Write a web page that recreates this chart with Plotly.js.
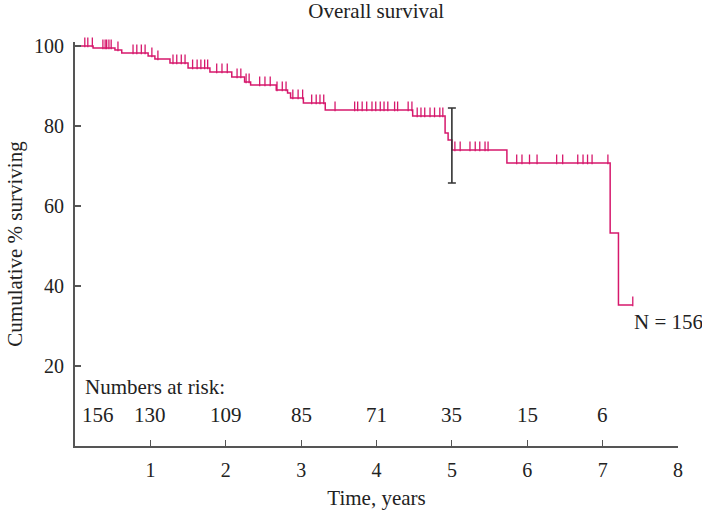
<!DOCTYPE html>
<html><head><meta charset="utf-8">
<script src="https://cdn.plot.ly/plotly-3.0.1.min.js"></script>
<style>html,body{margin:0;padding:0;background:#fff}#chart{width:702px;height:516px}</style>
</head><body><div id="chart"></div>
<script>
// Kaplan-Meier step curve (years, cumulative % surviving)
const times = [0, 0.24, 0.53, 0.62, 0.97, 1.06, 1.26, 1.50, 1.79, 2.08, 2.25, 2.33, 2.67, 2.82, 2.86, 3.03, 3.32, 4.48, 4.91, 4.95, 5.00, 5.73, 7.10, 7.21, 7.40];
const survival = [100, 99.5, 99.0, 98.25, 97.5, 96.75, 95.75, 94.5, 93.5, 92.25, 91.0, 90.25, 89.0, 88.25, 87.0, 85.75, 84.0, 82.5, 78.25, 76.5, 74.0, 70.75, 53.25, 35.25, 35.25];
// censoring times
const censorTimes = [0.13,0.17,0.23,0.37,0.40,0.42,0.45,0.48,0.57,0.77,0.82,0.88,0.93,1.02,1.10,1.30,1.35,1.41,1.46,1.56,1.62,1.67,1.72,1.76,1.88,1.95,2.02,2.15,2.20,2.27,2.31,2.45,2.52,2.59,2.68,2.75,2.80,2.89,2.96,3.02,3.14,3.20,3.25,3.30,3.45,3.71,3.75,3.81,3.87,3.94,3.99,4.05,4.10,4.15,4.24,4.28,4.42,4.47,4.54,4.59,4.64,4.71,4.77,4.84,4.88,5.04,5.11,5.24,5.31,5.37,5.44,5.48,5.86,5.93,6.03,6.13,6.39,6.47,6.67,6.74,6.80,6.86,7.07,7.40];
// 95% CI at 5 years
const ciTime = [5];
const ciEst = [75];
const ciUpper = [9.5];
const ciLower = [9.25];
// numbers at risk
const riskTimes = [0.30, 1, 2, 3, 4, 5, 6, 7];
const riskCounts = ['156','130','109','85','71','35','15','6'];

function survAt(t){
  let s = survival[0];
  for (let i=0;i<times.length;i++){ if (times[i] <= t) s = survival[i]; }
  return s;
}
const pink = '#d6186c';
const font = 'Liberation Serif, Times New Roman, serif';
const txt = '#222';

const traces = [
  {x: times, y: survival, type:'scatter', mode:'lines', line:{shape:'hv', color:pink, width:1.5}, hoverinfo:'skip', cliponaxis:false},
  {x: censorTimes, y: censorTimes.map(t=>survAt(t)+0.9), type:'scatter', mode:'markers',
   marker:{symbol:'line-ns-open', size:7, color:pink, line:{color:pink, width:1.3}}, cliponaxis:false, hoverinfo:'skip'},
  {x: ciTime, y: ciEst, type:'scatter', mode:'markers', marker:{size:1, color:'rgba(0,0,0,0)'},
   error_y:{type:'data', symmetric:false, array:ciUpper, arrayminus:ciLower, color:'#333', thickness:1.6, width:4}, hoverinfo:'skip', cliponaxis:false}
];

const annotations = [
  {x:0.10, y:14.75, xref:'x', yref:'y', text:'Numbers at risk:', showarrow:false, xanchor:'left', yanchor:'middle', font:{family:font, size:21, color:txt}},
  {x:7.39, y:31, xref:'x', yref:'y', text:'N = 156', showarrow:false, xanchor:'left', yanchor:'middle', font:{family:font, size:21, color:txt}}
].concat(riskTimes.map((t,i)=>({x:t, y:7.75, xref:'x', yref:'y', text:riskCounts[i], showarrow:false, xanchor:'center', yanchor:'middle', font:{family:font, size:21, color:txt}})));

const layout = {
  width:702, height:516,
  margin:{l:75, r:24, t:42, b:70},
  paper_bgcolor:'#fff', plot_bgcolor:'#fff',
  showlegend:false,
  font:{family:font, size:20, color:txt},
  title:{text:'Overall survival', x:0.536, xref:'container', xanchor:'center', y:0.979, yref:'container', yanchor:'middle', font:{family:font, size:21, color:txt}},
  xaxis:{range:[0,8], tickvals:[1,2,3,4,5,6,7,8], ticks:'inside', ticklen:6, tickwidth:1.2, tickcolor:'#555',
    showline:true, linecolor:'#555', linewidth:2, showgrid:false, zeroline:false, ticklabelstandoff:5,
    tickfont:{family:font, size:20, color:txt},
    title:{text:'Time, years', font:{family:font, size:21, color:txt}, standoff:10}},
  yaxis:{range:[0,101], tickvals:[20,40,60,80,100], ticks:'inside', ticklen:6, tickwidth:1.2, tickcolor:'#555',
    showline:true, linecolor:'#555', linewidth:2, showgrid:false, zeroline:false, ticklabelstandoff:5,
    tickfont:{family:font, size:20, color:txt},
    title:{text:'Cumulative % surviving', font:{family:font, size:21, color:txt}, standoff:6}},
  annotations: annotations
};
Plotly.newPlot('chart', traces, layout, {displayModeBar:false, staticPlot:true});
</script></body></html>
